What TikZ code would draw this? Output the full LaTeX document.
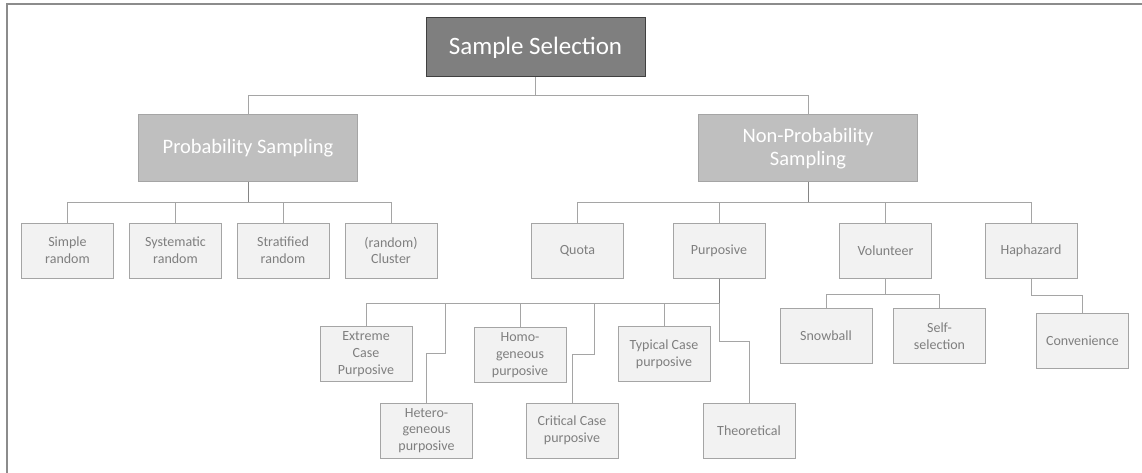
\documentclass[tikz,border=0pt]{standalone}
\usepackage{fontspec}
\setmainfont{Carlito}
\definecolor{topfill}{HTML}{7F7F7F}
\definecolor{topline}{HTML}{404040}
\definecolor{midfill}{HTML}{BFBFBF}
\definecolor{boxline}{HTML}{A5A5A5}
\definecolor{leaffill}{HTML}{F2F2F2}
\definecolor{leaftext}{HTML}{7F7F7F}
\definecolor{connline}{HTML}{A5A5A5}
\definecolor{stubline}{HTML}{858585}
\definecolor{frameline}{HTML}{8C8C8C}
\tikzset{
  topbox/.style={draw=topline, fill=topfill, line width=1pt, text=white,
    minimum width=219pt, minimum height=59pt, inner sep=0pt,
    font=\fontsize{25}{29}\selectfont},
  midbox/.style={draw=boxline, fill=midfill, line width=1pt, text=white,
    minimum width=219pt, minimum height=67pt, inner sep=0pt, align=center,
    font=\fontsize{20.5}{23.5}\selectfont},
  leafbox/.style={draw=boxline, fill=leaffill, line width=1pt, text=leaftext,
    minimum width=92pt, minimum height=55pt, inner sep=0pt, align=center,
    font=\fontsize{14}{16.8}\selectfont},
  conn/.style={draw=connline, line width=1pt},
  stub/.style={draw=stubline, line width=1pt},
}
\begin{document}
\begin{tikzpicture}[x=1pt, y=-1pt]
\useasboundingbox (0,0) rectangle (1142,473);
% outer frame (left and top edges)
\draw[frameline, line width=1.8pt] (7,473) -- (7,4) -- (1142,4);

% levels 0 and 1
\node[topbox] (ss) at (535.5,47.5) {Sample Selection};
\node[midbox] (prob) at (248,148.5) {Probability Sampling};
\node[midbox] (nonprob) at (808,148.5) {Non-Probability\\Sampling};

% probability methods
\node[leafbox] (simple) at (67.5,250.5) {Simple\\random};
\node[leafbox] (system) at (175.5,250.5) {Systematic\\random};
\node[leafbox] (strat) at (283,250.5) {Stratified\\random};
\node[leafbox] (cluster) at (391,250.5) {(random)\\Cluster};

% non-probability methods
\node[leafbox] (quota) at (577.5,250.5) {Quota};
\node[leafbox] (purp) at (719,250.5) {Purposive};
\node[leafbox] (volunteer) at (885.5,251) {Volunteer};
\node[leafbox] (hap) at (1031,250.5) {Haphazard};

% purposive variants
\node[leafbox] (extreme) at (366,354) {Extreme\\Case\\Purposive};
\node[leafbox] (homo) at (520,355) {Homo-\\geneous\\purposive};
\node[leafbox] (typical) at (664,354) {Typical Case\\purposive};
\node[leafbox] (hetero) at (426.5,430.5) {Hetero-\\geneous\\purposive};
\node[leafbox] (critical) at (572,430.5) {Critical Case\\purposive};
\node[leafbox] (theo) at (749,430.5) {Theoretical};

% volunteer and haphazard variants
\node[leafbox] (snow) at (826,336) {Snowball};
\node[leafbox] (selfsel) at (939.5,336) {Self-\\selection};
\node[leafbox] (conv) at (1082.5,340.5) {Convenience};

% bus rows and elbow points
\coordinate (bus0) at (0,96);
\coordinate (busP) at (0,202);
\coordinate (busN) at (0,202);
\coordinate (busU) at (0,303);
\coordinate (busV) at (0,294);
\coordinate (busH) at (0,295);
\coordinate (jogHet) at (445,353);
\coordinate (jogCrit) at (594,354);
\coordinate (jogTheo) at (719,341);

% connectors: top level
\draw[conn] (ss.south) -- (ss.south |- bus0) -| (prob.north);
\draw[conn] (ss.south) -- (ss.south |- bus0) -| (nonprob.north);

% connectors: probability sampling
\foreach \c in {simple,system,strat,cluster}
  \draw[conn] (prob.south) -- (prob.south |- busP) -| (\c.north);
\draw[stub] (prob.south) -- (prob.south |- busP);

% connectors: non-probability sampling
\foreach \c in {quota,purp,volunteer,hap}
  \draw[conn] (nonprob.south) -- (nonprob.south |- busN) -| (\c.north);
\draw[stub] (nonprob.south) -- (nonprob.south |- busN);

% connectors: purposive
\draw[conn] (purp.south) -- (purp.south |- busU) -| (extreme.north);
\draw[conn] (purp.south) -- (purp.south |- busU) -| (homo.north);
\draw[conn] (purp.south) -- (purp.south |- busU) -| (typical.north);
\draw[conn] (purp.south) -- (purp.south |- busU) -| (jogHet) -| (hetero.north);
\draw[conn] (purp.south) -- (purp.south |- busU) -| (jogCrit) -| (critical.north);
\draw[conn] (purp.south) -- (jogTheo) -| (theo.north);
\draw[stub] (purp.south) -- (purp.south |- busU);

% connectors: volunteer and haphazard
\draw[conn] (volunteer.south) -- (volunteer.south |- busV) -| (snow.north);
\draw[conn] (volunteer.south) -- (volunteer.south |- busV) -| (selfsel.north);
\draw[conn] (hap.south) -- (hap.south |- busH) -| (conv.north);
\end{tikzpicture}
\end{document}
